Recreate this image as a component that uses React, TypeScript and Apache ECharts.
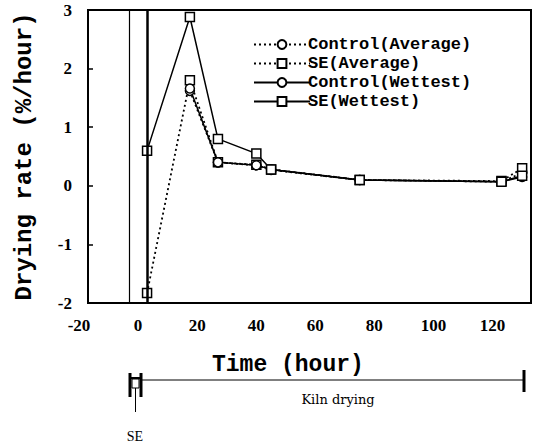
import React, { useEffect, useRef } from "react";
import * as echarts from "echarts";

// Time (hour) of each measurement
const timeSE = [0, 14.5, 24, 37, 42, 72, 120, 127];
const timeControl = [14.5, 24, 37, 42, 72, 120, 127];

// Drying rate (%/hour)
const controlAverage = [1.62, 0.4, 0.35, 0.27, 0.1, 0.07, 0.22];
const seAverage = [-1.83, 1.8, 0.4, 0.36, 0.28, 0.1, 0.08, 0.3];
const controlWettest = [1.66, 0.4, 0.35, 0.28, 0.1, 0.07, 0.15];
const seWettest = [0.6, 2.88, 0.8, 0.55, 0.28, 0.1, 0.07, 0.17];

const seriesNames = ["Control(Average)", "SE(Average)", "Control(Wettest)", "SE(Wettest)"];

// Vertical reference lines marking the SE period
const seStart = -6;
const seEnd = 0;

const xMin = -20;
const xMax = 130;
const xStep = 20;
const yMin = -2;
const yMax = 3;
const yStep = 1;

const zip = (xs: number[], ys: number[]) => xs.map((x, i) => [x, ys[i]]);

const MONO = "'Liberation Mono', 'DejaVu Sans Mono', monospace";
const SERIF = "'Liberation Serif', 'DejaVu Serif', serif";

export default function App() {
  const ref = useRef<HTMLDivElement>(null);

  useEffect(() => {
    if (!ref.current) return;
    const chart = echarts.init(ref.current, null, { renderer: "svg" });

    const mk = (
      name: string,
      data: number[][],
      symbol: string,
      dotted: boolean,
      extra: any = {}
    ) => ({
      name,
      type: "line",
      data,
      symbol,
      symbolSize: 9,
      showSymbol: true,
      itemStyle: { color: "#fff", borderColor: "#000", borderWidth: 1.5 },
      lineStyle: { color: "#000", width: dotted ? 1.8 : 1.5, type: dotted ? [2, 3] : "solid" },
      z: 3,
      ...extra,
    });

    chart.setOption({
      animation: false,
      backgroundColor: "#fff",
      grid: {
        left: 88,
        right: 3,
        top: 10,
        bottom: 144,
        show: true,
        borderColor: "#000",
        borderWidth: 2,
      },
      legend: {
        orient: "vertical",
        left: 248,
        top: 31,
        itemWidth: 56,
        itemHeight: 11,
        itemGap: 2,
        data: seriesNames,
        textStyle: {
          fontFamily: MONO,
          fontWeight: "bold",
          fontSize: 17,
          lineHeight: 17,
          color: "#000",
          padding: [0, 0, 0, -7],
        },
      },
      xAxis: {
        type: "value",
        min: xMin,
        max: xMax,
        interval: xStep,
        axisLine: { show: true, onZero: false, lineStyle: { color: "#000", width: 2 } },
        axisTick: { show: false },
        splitLine: { show: false },
        axisLabel: {
          showMaxLabel: false,
          margin: 14,
          padding: [0, 18, 0, 0],
          fontFamily: SERIF,
          fontWeight: "bold",
          fontSize: 17,
          color: "#000",
        },
      },
      yAxis: {
        type: "value",
        min: yMin,
        max: yMax,
        interval: yStep,
        name: "Drying rate (%/hour)",
        nameLocation: "middle",
        nameGap: 52,
        nameTextStyle: {
          fontFamily: MONO,
          fontWeight: "bold",
          fontSize: 24,
          color: "#000",
        },
        axisLine: { show: true, onZero: false, lineStyle: { color: "#000", width: 2 } },
        axisTick: { show: true, inside: true, length: 5, lineStyle: { color: "#000", width: 1.5 } },
        splitLine: { show: false },
        axisLabel: {
          margin: 16,
          fontFamily: SERIF,
          fontWeight: "bold",
          fontSize: 17,
          color: "#000",
        },
      },
      series: [
        mk(seriesNames[0], zip(timeControl, controlAverage), "circle", true),
        mk(seriesNames[1], zip(timeSE, seAverage), "rect", true),
        mk(seriesNames[2], zip(timeControl, controlWettest), "circle", false),
        mk(seriesNames[3], zip(timeSE, seWettest), "rect", false, {
          markLine: {
            silent: true,
            symbol: "none",
            label: { show: false },
            lineStyle: { color: "#000", type: "solid" },
            data: [
              { xAxis: seStart, lineStyle: { width: 1.2 } },
              { xAxis: seEnd, lineStyle: { width: 2.5 } },
            ],
          },
        }),
      ],
      graphic: [
        {
          type: "text",
          left: 212,
          top: 353,
          style: {
            text: "Time (hour)",
            fontFamily: MONO,
            fontWeight: "bold",
            fontSize: 23,
            fill: "#000",
          },
        },
        // Kiln drying timeline
        { type: "line", shape: { x1: 142, y1: 380, x2: 524, y2: 380 }, style: { stroke: "#000", lineWidth: 1 } },
        { type: "line", shape: { x1: 524, y1: 370, x2: 524, y2: 392 }, style: { stroke: "#000", lineWidth: 3 } },
        // SE bracket
        { type: "line", shape: { x1: 130, y1: 373, x2: 130, y2: 397 }, style: { stroke: "#000", lineWidth: 3 } },
        { type: "line", shape: { x1: 141, y1: 373, x2: 141, y2: 397 }, style: { stroke: "#000", lineWidth: 3 } },
        { type: "line", shape: { x1: 130, y1: 378, x2: 141, y2: 378 }, style: { stroke: "#000", lineWidth: 2 } },
        { type: "rect", shape: { x: 132, y: 379, width: 7, height: 9 }, style: { fill: "#fff", stroke: "#000", lineWidth: 1 } },
        { type: "line", shape: { x1: 135.5, y1: 388, x2: 135.5, y2: 412 }, style: { stroke: "#000", lineWidth: 1 } },
        {
          type: "text",
          x: 135,
          y: 436,
          style: {
            text: "SE",
            fontFamily: SERIF,
            fontSize: 14,
            fill: "#000",
            align: "center",
            verticalAlign: "middle",
          },
        },
        {
          type: "text",
          x: 338,
          y: 399,
          style: {
            text: "Kiln drying",
            fontFamily: "'DejaVu Serif', serif",
            fontSize: 13,
            fill: "#000",
            align: "center",
            verticalAlign: "middle",
          },
        },
      ],
    });

    return () => chart.dispose();
  }, []);

  return <div ref={ref} style={{ width: 534, height: 447, position: "absolute", left: 0, top: 0 }} />;
}
